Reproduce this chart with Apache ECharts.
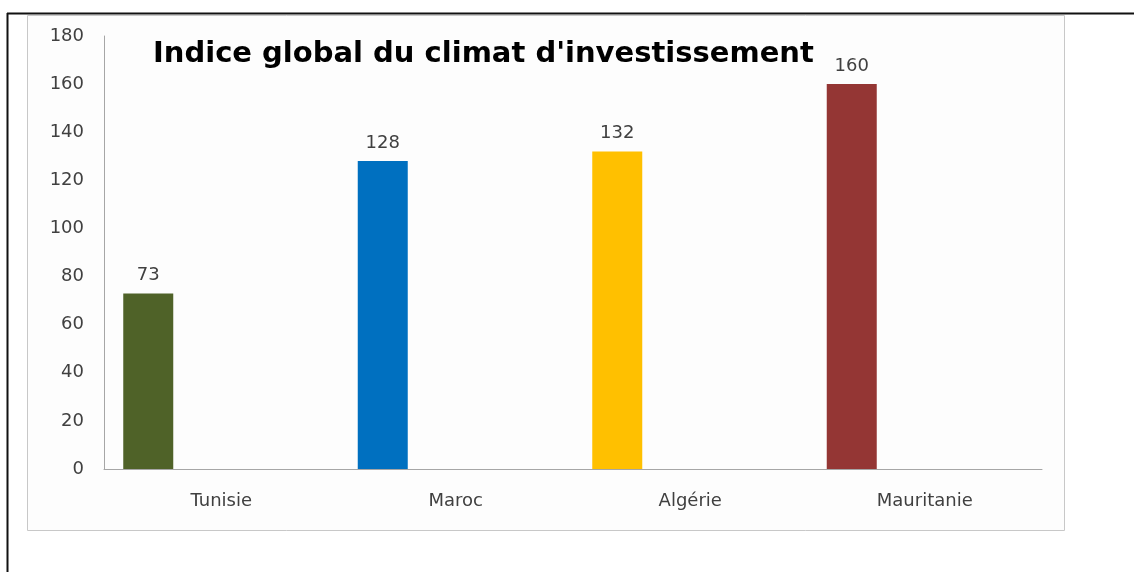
<!DOCTYPE html>
<html>
<head>
<meta charset="utf-8">
<script src="https://cdn.jsdelivr.net/npm/echarts@6/dist/echarts.min.js"></script>
<style>
  html, body { margin: 0; padding: 0; background: #ffffff; }
  #chart { width: 1134px; height: 572px; }
</style>
</head>
<body>
<div id="chart"></div>
<script>
// Global investment climate index by country
const titleText = "Indice global du climat d'investissement";
const countries = ['Tunisie', 'Maroc', 'Algérie', 'Mauritanie'];
const indexValues = [73, 128, 132, 160];
const barColors = ['#4F6228', '#0070C0', '#FFC000', '#943634'];
const yTicks = { min: 0, max: 180, interval: 20 };

const textColor = '#404040';
const axisFont = 'DejaVu Sans';

const chart = echarts.init(document.getElementById('chart'));

chart.setOption({
  backgroundColor: '#ffffff',
  animation: false,
  title: {
    text: titleText,
    left: 148,
    top: 35,
    textStyle: {
      fontFamily: 'DejaVu Sans',
      fontWeight: 'bold',
      fontSize: 29,
      color: '#000000'
    }
  },
  grid: { left: 104, right: 92, top: 36, bottom: 103, containLabel: false },
  xAxis: {
    type: 'category',
    data: countries,
    axisLine: { lineStyle: { color: '#a6a6a6', width: 1 } },
    axisTick: { show: false },
    axisLabel: { color: textColor, fontFamily: axisFont, fontSize: 18, margin: 23 }
  },
  yAxis: {
    type: 'value',
    min: yTicks.min,
    max: yTicks.max,
    interval: yTicks.interval,
    axisLine: { show: true, lineStyle: { color: '#a6a6a6', width: 1 } },
    axisTick: { show: false },
    splitLine: { show: false },
    axisLabel: { color: textColor, fontFamily: axisFont, fontSize: 18, margin: 20 }
  },
  series: [
    {
      type: 'bar',
      name: 'Indice',
      data: indexValues.map((v, i) => ({ value: v, itemStyle: { color: barColors[i] } })),
      barWidth: 50,
      barGap: '192%',
      label: {
        show: true,
        position: 'top',
        distance: 9,
        color: textColor,
        fontFamily: axisFont,
        fontSize: 18
      }
    },
    {
      // empty companion series: keeps each bar on the left half of its category
      type: 'bar',
      name: '',
      data: countries.map(() => null),
      barWidth: 50
    }
  ],
  graphic: [
    {
      type: 'rect',
      silent: true,
      z: -1,
      shape: { x: 27.5, y: 15.5, width: 1037, height: 515 },
      style: { fill: '#fdfdfd', stroke: '#c8c8c8', lineWidth: 1 }
    },
    {
      type: 'line',
      silent: true,
      shape: { x1: 7, y1: 13.5, x2: 1134, y2: 13.5 },
      style: { stroke: '#111111', lineWidth: 2 }
    },
    {
      type: 'line',
      silent: true,
      shape: { x1: 7.5, y1: 13, x2: 7.5, y2: 572 },
      style: { stroke: '#111111', lineWidth: 2 }
    }
  ]
});
</script>
</body>
</html>
